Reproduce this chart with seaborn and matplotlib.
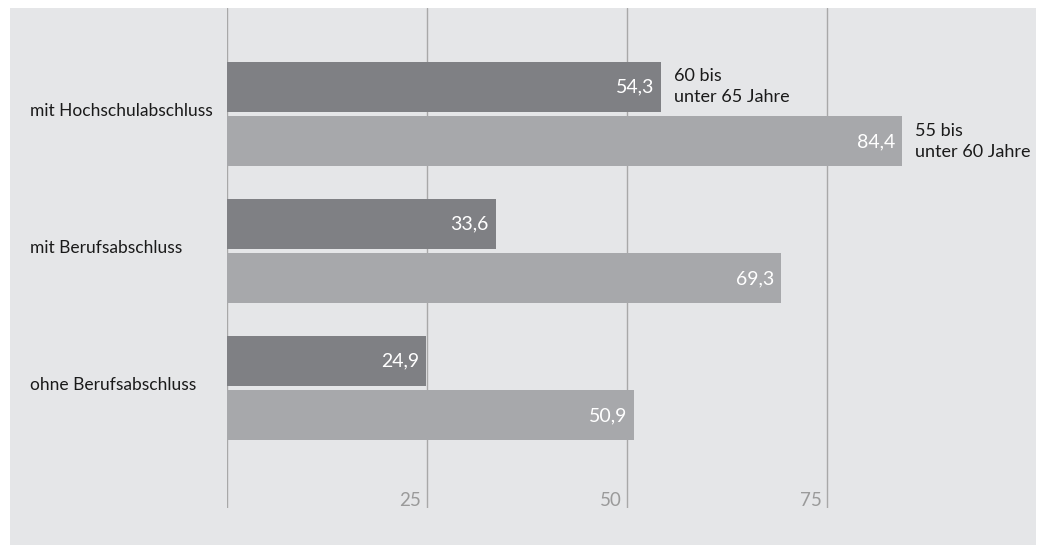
import pandas as pd
import seaborn as sns
import matplotlib.pyplot as plt
from matplotlib.patches import Rectangle
import matplotlib.transforms as mtransforms

# Daten
kategorien = ['mit Hochschulabschluss', 'mit Berufsabschluss', 'ohne Berufsabschluss']
altersgruppen = ['60 bis\nunter 65 Jahre', '55 bis\nunter 60 Jahre']
werte_60_65 = [54.3, 33.6, 24.9]
werte_55_60 = [84.4, 69.3, 50.9]
xticks = [25, 50, 75]

farben = ['#7f8084', '#a7a8ab']
hintergrund = '#e5e6e8'

df = pd.DataFrame({
    'kategorie': kategorien * 2,
    'gruppe': [altersgruppen[0]] * 3 + [altersgruppen[1]] * 3,
    'wert': werte_60_65 + werte_55_60,
})

sns.set_style('white')
plt.rcParams['font.family'] = ['Lato', 'DejaVu Sans']

fig = plt.figure(figsize=(10.42, 5.45), dpi=100)
fig.patch.set_facecolor('white')
fig.patches.append(Rectangle((10 / 1042, 0), 1026 / 1042, 537 / 545,
                             transform=fig.transFigure, facecolor=hintergrund,
                             edgecolor='none', zorder=-10))

ax = fig.add_axes([227 / 1042, 37 / 545, 800 / 1042, 500 / 545])
ax.set_facecolor('none')
ax.set_zorder(1)

sns.barplot(
    data=df, x='wert', y='kategorie', hue='gruppe',
    hue_order=altersgruppen, order=kategorien,
    orient='h', width=0.8, gap=0.09, linewidth=0,
    palette=farben, saturation=1, legend=False, ax=ax, zorder=3
)

ax.set_xlim(0, 100)
ax.set_ylim(2.876, -0.774)
for s in ax.spines.values():
    s.set_visible(False)
ax.set_xticks([])
ax.set_yticks([])
ax.set_xlabel('')
ax.set_ylabel('')

# Gitterlinien
for x in [0] + xticks:
    ax.axvline(x, color='#a8a8a8', lw=1, zorder=1)
for x in xticks:
    ax.annotate(str(x), (x, 0), xycoords=('data', 'axes fraction'),
                xytext=(-4, -1), textcoords='offset points',
                ha='right', va='bottom', fontsize=13.5, color='#9a9a9a')

# Wertebeschriftungen
for i, (container, werte) in enumerate(zip(ax.containers, [werte_60_65, werte_55_60])):
    for bar, w in zip(container, werte):
        yc = bar.get_y() + bar.get_height() / 2
        ax.annotate(f'{w:.1f}'.replace('.', ','), (w, yc),
                    xytext=(-5, 0), textcoords='offset points',
                    ha='right', va='center', fontsize=14, color='white',
                    zorder=5)
    # Legende am ersten Balken
    bar = container[0]
    yc = bar.get_y() + bar.get_height() / 2
    ax.annotate(altersgruppen[i], (bar.get_width(), yc),
                xytext=(9, 0), textcoords='offset points',
                ha='left', va='center', fontsize=13, color='#1a1a1a',
                linespacing=1.4, annotation_clip=False)

# Kategorienbeschriftungen
trans = mtransforms.blended_transform_factory(fig.transFigure, ax.transData)
for i, k in enumerate(kategorien):
    fig.text(30 / 1042, i - 0.02, k, transform=trans,
             ha='left', va='center', fontsize=12.5, color='#1a1a1a')

plt.savefig('out.png', dpi=100)
